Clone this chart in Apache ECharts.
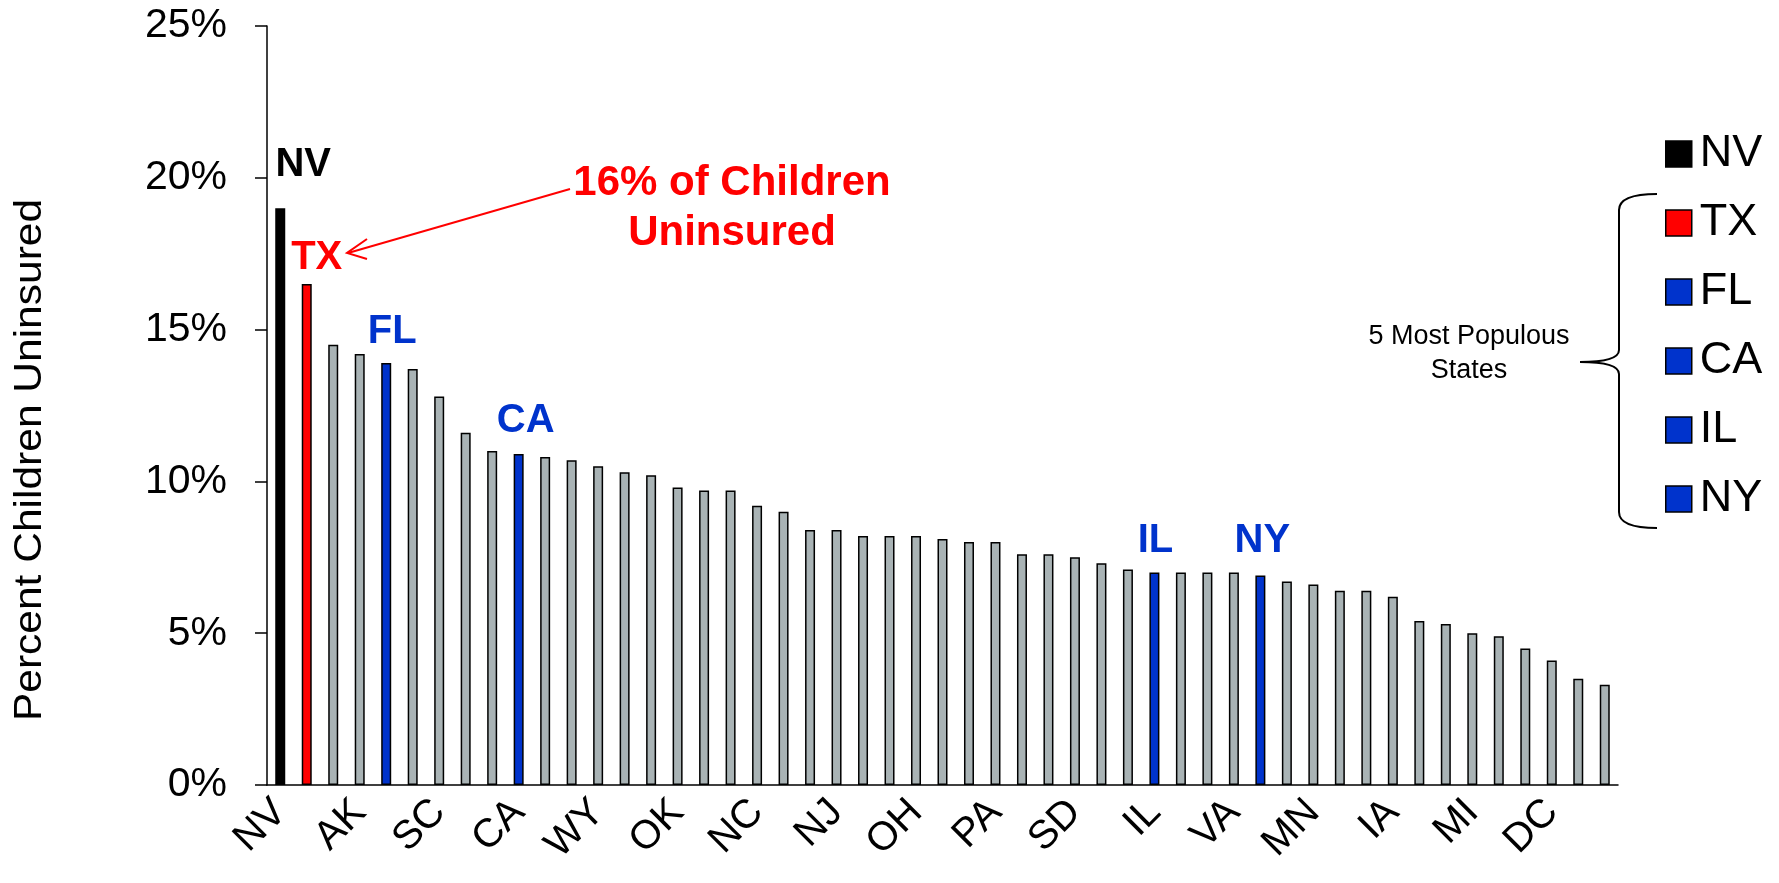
<!DOCTYPE html>
<html>
<head>
<meta charset="utf-8">
<script src="https://cdn.jsdelivr.net/npm/echarts@6/dist/echarts.min.js"></script>
<style>
  html, body { margin: 0; padding: 0; background: #fff; }
  #chart { width: 1779px; height: 883px; }
</style>
</head>
<body>
<div id="chart"></div>
<script>
// states sorted by percent of children uninsured
const states = ['NV','TX','NM','AK','FL','AZ','SC','MT','UT','CA','GA','CO','WY','ID','LA','OK','MS','AR','NC','OR','IN',
  'NJ','KS','DE','OH','KY','MO','PA','ND','TN','SD','MD','WV','IL','NE','WA','VA','NY','AL','MN','NH','CT','IA','RI',
  'ME','MI','WI','HI','DC','VT','MA'];
const pct = [19.0,16.5,14.5,14.2,13.9,13.7,12.8,11.6,11.0,10.9,10.8,10.7,10.5,10.3,10.2,9.8,9.7,9.7,9.2,9.0,8.4,
  8.4,8.2,8.2,8.2,8.1,8.0,8.0,7.6,7.6,7.5,7.3,7.1,7.0,7.0,7.0,7.0,6.9,6.7,6.6,6.4,6.4,6.2,5.4,
  5.3,5.0,4.9,4.5,4.1,3.5,3.3];
const yTicks = [0, 5, 10, 15, 20, 25];

const highlightStates = ['NV','TX','FL','CA','IL','NY'];
const highlightColors = ['#000000','#FF0000','#0033CC','#0033CC','#0033CC','#0033CC'];

// label nudges for the bold state tags above the bars
const labelOffsets = [[23,-18],[10,-1],[6,-6],[7,-8],[1,-7],[2,-10]];
const FONT = '"Liberation Sans", Arial, sans-serif';

let barData = pct.map(function (v, i) {
  let k = highlightStates.indexOf(states[i]);
  if (k < 0) return v;
  return {
    value: v,
    itemStyle: { color: highlightColors[k] },
    label: { show: true, formatter: states[i], color: highlightColors[k], offset: labelOffsets[k] }
  };
});

let myChart = echarts.init(document.getElementById('chart'));

let series = [{
  name: 'Percent Children Uninsured',
  type: 'bar',
  stack: 'all',
  barWidth: 10,
  itemStyle: { color: '#A9B3B5', borderColor: '#000', borderWidth: 1.5 },
  label: { show: false, position: 'top', distance: 5, fontSize: 40, fontWeight: 'bold', fontFamily: FONT },
  data: barData
}];
/* empty series only feed the legend */
highlightStates.forEach(function (s, k) {
  series.push({ name: s, type: 'bar', stack: 'all', data: [], itemStyle: { color: highlightColors[k] } });
});

let braceStyle = { stroke: '#000', lineWidth: 2, fill: null };

let option = {
  animation: false,
  backgroundColor: '#fff',
  grid: { left: 267, right: 161, top: 26, bottom: 98 },
  legend: {
    data: highlightStates,
    orient: 'vertical',
    left: 1660,
    top: 125,
    itemWidth: 26,
    itemHeight: 26,
    itemGap: 21,
    icon: 'rect',
    selectedMode: false,
    itemStyle: { borderColor: '#000', borderWidth: 1.5 },
    textStyle: { fontSize: 45, lineHeight: 48, color: '#000', fontFamily: FONT, padding: [0, 0, 0, 3] }
  },
  xAxis: {
    type: 'category',
    data: states,
    axisLine: { lineStyle: { color: '#000', width: 1.5 } },
    axisTick: { length: 13, interval: 0, lineStyle: { color: '#000', width: 1.5 } },
    axisLabel: { interval: 2, rotate: 45, margin: 21, fontSize: 40, color: '#000', fontFamily: FONT }
  },
  yAxis: {
    type: 'value',
    min: yTicks[0],
    max: yTicks[yTicks.length - 1],
    interval: 5,
    splitLine: { show: false },
    axisLine: { show: true, lineStyle: { color: '#000', width: 1.5 } },
    axisTick: { show: true, length: 12, lineStyle: { color: '#000', width: 1.5 } },
    axisLabel: { formatter: '{value}%', margin: 40, fontSize: 41, color: '#000', fontFamily: FONT }
  },
  graphic: [
    {
      type: 'text', x: 30, y: 460, rotation: Math.PI / 2, scaleX: 1.09,
      style: { text: 'Percent Children Uninsured', fontSize: 39, fontFamily: FONT, fill: '#000',
        align: 'center', verticalAlign: 'middle' }
    },
    {
      type: 'line', shape: { x1: 570, y1: 189, x2: 348, y2: 253 },
      style: { stroke: '#FF0000', lineWidth: 2 }
    },
    {
      type: 'polyline', shape: { points: [[367, 239], [347, 253], [367, 259]] },
      style: { stroke: '#FF0000', lineWidth: 2, fill: null }
    },
    {
      type: 'text', x: 732, y: 208,
      style: { text: '16% of Children\nUninsured', fontSize: 42, fontWeight: 'bold', fontFamily: FONT,
        fill: '#FF0000', align: 'center', verticalAlign: 'middle', lineHeight: 50 }
    },
    // curly brace grouping the five most populous states
    { type: 'bezierCurve', shape: { x1: 1657, y1: 194, cpx1: 1619, cpy1: 194, x2: 1619, y2: 210 }, style: braceStyle },
    { type: 'line', shape: { x1: 1619, y1: 210, x2: 1619, y2: 350 }, style: braceStyle },
    { type: 'bezierCurve', shape: { x1: 1619, y1: 350, cpx1: 1619, cpy1: 362, x2: 1580, y2: 362 }, style: braceStyle },
    { type: 'bezierCurve', shape: { x1: 1580, y1: 362, cpx1: 1619, cpy1: 362, x2: 1619, y2: 374 }, style: braceStyle },
    { type: 'line', shape: { x1: 1619, y1: 374, x2: 1619, y2: 512 }, style: braceStyle },
    { type: 'bezierCurve', shape: { x1: 1619, y1: 512, cpx1: 1619, cpy1: 528, x2: 1657, y2: 528 }, style: braceStyle },
    {
      type: 'text', x: 1469, y: 354,
      style: { text: '5 Most Populous\nStates', fontSize: 27, fontFamily: FONT, fill: '#000',
        align: 'center', verticalAlign: 'middle', lineHeight: 34 }
    }
  ],
  series: series
};

myChart.setOption(option);
</script>
</body>
</html>
